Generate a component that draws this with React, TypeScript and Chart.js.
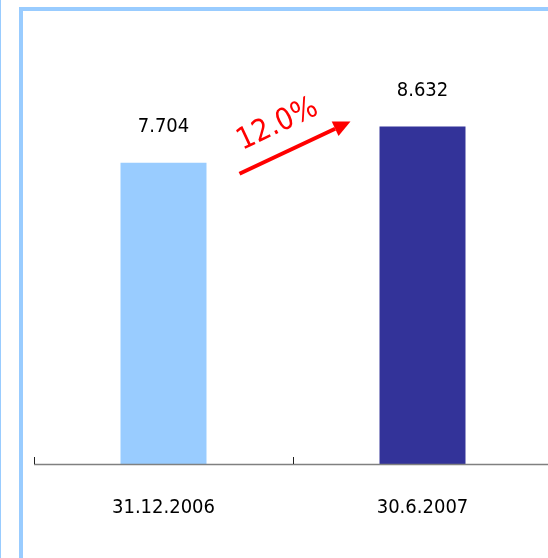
import React, { useEffect, useRef } from "react";
import { Chart, registerables } from "chart.js";

Chart.register(...registerables);

const categories = ["31.12.2006", "30.6.2007"];
const values = [7.704, 8.632];
const valueLabels = ["7.704", "8.632"];
const barColors = ["#99ccff", "#333399"];
const growthLabel = "12.0%";

const FONT = "'DejaVu Sans Condensed', 'Liberation Sans', Arial, sans-serif";

const decorPlugin = {
  id: "decor",
  afterDatasetsDraw(chart: any) {
    const ctx = chart.ctx;
    const meta = chart.getDatasetMeta(0);
    const area = chart.chartArea;
    const xs = chart.scales.x;
    ctx.save();
    // axis line
    ctx.strokeStyle = "#808080";
    ctx.lineWidth = 1.5;
    ctx.beginPath();
    ctx.moveTo(area.left, area.bottom + 0.5);
    ctx.lineTo(area.right, area.bottom + 0.5);
    ctx.stroke();
    // ticks at category boundaries (upward)
    const n = categories.length;
    const step = (xs.right - xs.left) / n;
    ctx.strokeStyle = "#202020";
    ctx.lineWidth = 1;
    for (let i = 0; i <= n; i++) {
      const x = Math.round(xs.left + i * step) + 0.5;
      ctx.beginPath();
      ctx.moveTo(x, area.bottom);
      ctx.lineTo(x, area.bottom - 7);
      ctx.stroke();
    }
    // value labels
    ctx.fillStyle = "#000";
    ctx.font = "20px " + FONT;
    ctx.textAlign = "center";
    ctx.textBaseline = "middle";
    meta.data.forEach((bar: any, i: number) => {
      ctx.fillText(valueLabels[i], bar.x, bar.y - 36);
    });
    // growth arrow
    const b0 = meta.data[0];
    const b1 = meta.data[1];
    const sx = b0.x + b0.width / 2 + 33;
    const sy = b0.y + 11;
    const ex = b1.x - b1.width / 2 - 29;
    const ey = b1.y - 5;
    const ang = Math.atan2(ey - sy, ex - sx);
    const head = 17;
    const hw = 8;
    const bx = ex - head * Math.cos(ang);
    const by = ey - head * Math.sin(ang);
    ctx.strokeStyle = "#ff0000";
    ctx.fillStyle = "#ff0000";
    ctx.lineWidth = 4;
    ctx.lineCap = "butt";
    ctx.beginPath();
    ctx.moveTo(sx, sy);
    ctx.lineTo(bx, by);
    ctx.stroke();
    ctx.beginPath();
    ctx.moveTo(ex, ey);
    ctx.lineTo(bx + hw * Math.sin(ang), by - hw * Math.cos(ang));
    ctx.lineTo(bx - hw * Math.sin(ang), by + hw * Math.cos(ang));
    ctx.closePath();
    ctx.fill();
    // growth label
    const mx = (sx + ex) / 2;
    const my = (sy + ey) / 2;
    const nx = Math.sin(ang);
    const ny = -Math.cos(ang);
    const tx = mx + nx * 28 - Math.cos(ang) * 6;
    const ty = my + ny * 28 - Math.sin(ang) * 6;
    ctx.translate(tx, ty);
    ctx.rotate(ang);
    ctx.font = "30px " + FONT;
    ctx.textAlign = "center";
    ctx.textBaseline = "middle";
    ctx.fillText(growthLabel, 0, 0);
    ctx.restore();
  },
};

export default function App() {
  const ref = useRef<HTMLCanvasElement>(null);
  useEffect(() => {
    if (!ref.current) return;
    const chart = new Chart(ref.current, {
      type: "bar",
      data: {
        labels: categories,
        datasets: [
          {
            data: values,
            backgroundColor: barColors,
            borderWidth: 0,
            barPercentage: 0.332,
            categoryPercentage: 1,
          },
        ],
      },
      options: {
        responsive: false,
        animation: false,
        devicePixelRatio: 1,
        layout: { padding: { left: 34, right: 8, top: 73, bottom: 6 } },
        plugins: {
          legend: { display: false },
          tooltip: { enabled: false },
        },
        scales: {
          x: {
            grid: { display: false, drawTicks: false },
            border: { display: false },
            ticks: {
              color: "#000",
              font: { family: FONT, size: 20 },
              padding: 32,
              maxRotation: 0,
            },
          },
          y: { display: false, min: 0, max: 10 },
        },
      },
      plugins: [decorPlugin],
    });
    return () => chart.destroy();
  }, []);
  return (
    <div
      style={{
        position: "fixed",
        left: 0,
        top: 0,
        width: 548,
        height: 558,
        overflow: "hidden",
        background: "#fff",
      }}
    >
      <canvas
        ref={ref}
        width={560}
        height={558}
        style={{ position: "absolute", left: 0, top: 0, width: 560, height: 558 }}
      />
      <div style={{ position: "absolute", left: 0, top: 0, width: 1, height: 558, background: "#99ccff" }} />
      <div style={{ position: "absolute", left: 19, top: 7, width: 4, height: 551, background: "#99ccff" }} />
      <div style={{ position: "absolute", left: 19, top: 7, width: 529, height: 4, background: "#99ccff" }} />
    </div>
  );
}
